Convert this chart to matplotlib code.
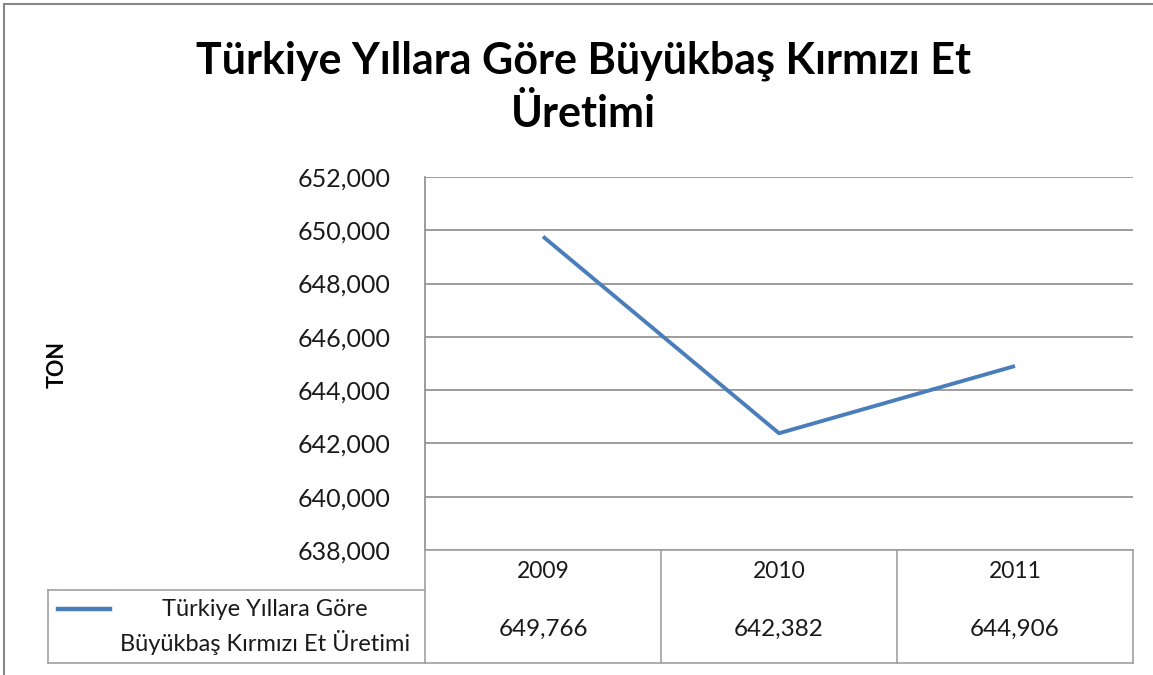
import matplotlib
matplotlib.use('Agg')
import matplotlib.pyplot as plt
from matplotlib.lines import Line2D
from matplotlib.patches import Rectangle

plt.rcParams['font.family'] = ['Lato', 'DejaVu Sans']

years = ['2009', '2010', '2011']
production = [649766, 642382, 644906]
series_name = 'Türkiye Yıllara Göre\nBüyükbaş Kırmızı Et Üretimi'
title = 'Türkiye Yıllara Göre Büyükbaş Kırmızı Et\nÜretimi'
y_label = 'TON'
y_ticks = [638000, 640000, 642000, 644000, 646000, 648000, 650000, 652000]

W, H = 1153, 675
line_color = '#4a7ebb'
grid_color = '#8c8c8c'
table_color = '#a0a0a0'
text_color = '#1a1a1a'


def fx(x):
  return x / W


def fy(y):
  return 1 - y / H


fig = plt.figure(figsize=(W / 100, H / 100), dpi=100)

# outer chart frame
fig.add_artist(Rectangle((fx(4), fy(700)), fx(1160), 696 / H, transform=fig.transFigure,
                         fill=False, edgecolor='#878787', linewidth=1.5))

ax = fig.add_axes([fx(425), fy(550), fx(1133) - fx(425), fy(177) - fy(550)])
x = list(range(len(years)))
ax.plot(x, production, color=line_color, linewidth=2.8, solid_capstyle='butt')
ax.set_xlim(-0.5, len(years) - 0.5)
ax.set_ylim(y_ticks[0], y_ticks[-1])
ax.set_yticks(y_ticks)
ax.set_yticklabels([f'{v:,}' for v in y_ticks], fontsize=18, color=text_color)
ax.set_xticks([])
ax.tick_params(axis='y', length=0, pad=25)
ax.grid(axis='y', color=grid_color, linewidth=1.2)
ax.set_axisbelow(True)
for s in ['top', 'right', 'bottom']:
  ax.spines[s].set_visible(False)
ax.spines['left'].set_color(grid_color)
ax.spines['left'].set_linewidth(1.2)

fig.text(fx(57), fy(365), y_label, rotation=90, ha='center', va='center',
         fontsize=15.5, fontweight='bold')
fig.text(fx(583), fy(87), title, ha='center', va='center', fontsize=31,
         fontweight='bold', linespacing=1.38, multialignment='center')

# data table under the plot
tab = fig.add_axes([fx(425), fy(663), fx(1133) - fx(425), fy(550) - fy(663)])
tab.set_xlim(-0.5, len(years) - 0.5)
tab.set_ylim(0, 113)
tab.axis('off')
row_split = 663 - 590
bounds = [i - 0.5 for i in range(len(years) + 1)]
for b in bounds:
  tab.plot([b, b], [0, 113], color=table_color, linewidth=1.2, clip_on=False)
tab.plot([bounds[0], bounds[-1]], [113, 113], color=table_color, linewidth=1.2, clip_on=False)
tab.plot([bounds[0], bounds[-1]], [0, 0], color=table_color, linewidth=1.2, clip_on=False)
for i, (yr, v) in enumerate(zip(years, production)):
  tab.text(i, (113 + row_split) / 2 - 1.5, yr, ha='center', va='center', fontsize=16.5, color=text_color)
  tab.text(i, row_split / 2 - 2.5, f'{v:,}', ha='center', va='center', fontsize=17.5, color=text_color)

# legend cell on the left of the value row
fig.add_artist(Line2D([fx(48), fx(425)], [fy(590), fy(590)], transform=fig.transFigure,
                      color=table_color, linewidth=1.2))
fig.add_artist(Line2D([fx(48), fx(425)], [fy(663), fy(663)], transform=fig.transFigure,
                      color=table_color, linewidth=1.2))
fig.add_artist(Line2D([fx(48), fx(48)], [fy(590), fy(663)], transform=fig.transFigure,
                      color=table_color, linewidth=1.2))
fig.add_artist(Line2D([fx(58), fx(110)], [fy(609), fy(609)], transform=fig.transFigure,
                      color=line_color, linewidth=3.2))
fig.text(fx(265), fy(627), series_name, ha='center', va='center', fontsize=17,
         color=text_color, linespacing=1.45)

fig.savefig('out.png', dpi=100)
